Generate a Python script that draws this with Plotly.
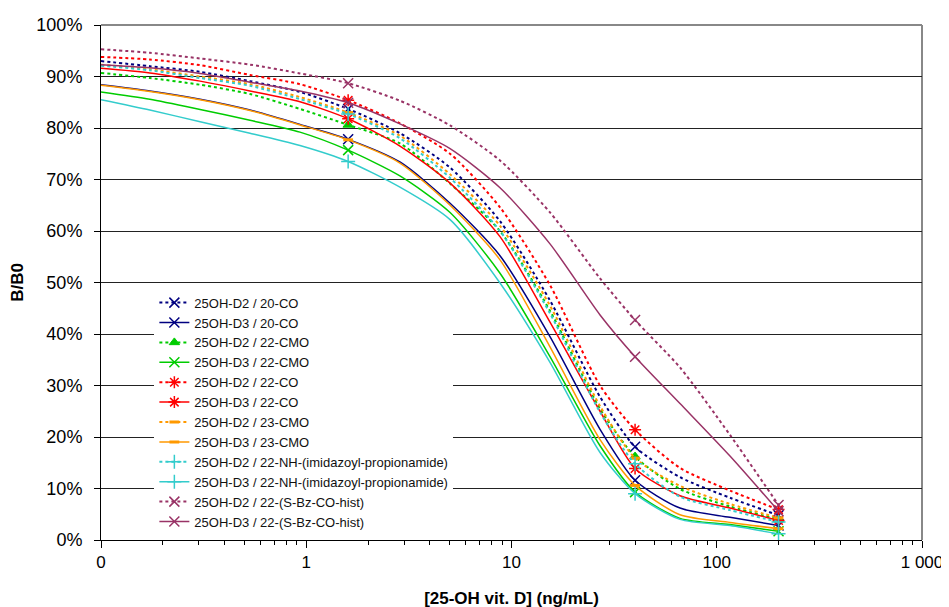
import plotly.graph_objects as go

# concentration sample positions (ng/mL); first value is the "0" point drawn at the left edge
conc = [0.1, 0.173, 0.304, 0.532, 0.932, 1.6, 2.86, 5.02, 8.79, 15.4, 27.0, 40, 66.2, 116, 200]
measured = [1.6, 40, 200]

d2_20co = [93.0, 92.0, 90.9, 89.1, 87.0, 83.7, 79.0, 72.3, 61.9, 46.5, 27.8, 18.1, 12.2, 8.2, 4.8]
d3_20co = [88.4, 87.2, 85.6, 83.5, 80.7, 77.8, 73.4, 65.4, 55.2, 39.5, 21.5, 11.6, 6.2, 4.4, 2.8]
d2_22cmo = [90.7, 89.7, 88.4, 86.6, 83.7, 80.6, 77.0, 69.2, 60.0, 44.5, 25.5, 16.2, 9.9, 6.5, 4.0]
d3_22cmo = [87.0, 85.6, 83.6, 81.5, 79.2, 75.7, 70.7, 63.6, 51.8, 35.6, 18.3, 9.3, 4.2, 3.0, 1.7]
d2_22co = [93.8, 93.3, 92.2, 90.3, 88.5, 85.4, 80.9, 75.0, 64.6, 49.5, 30.0, 21.4, 14.0, 9.6, 5.9]
d3_22co = [91.6, 90.7, 89.1, 87.2, 85.1, 81.8, 76.5, 69.3, 58.9, 42.3, 25.0, 13.9, 8.6, 6.2, 3.8]
d2_23cmo = [92.3, 91.4, 90.0, 88.5, 86.0, 83.0, 78.5, 71.0, 61.0, 45.5, 26.0, 15.9, 10.5, 7.0, 4.3]
d3_23cmo = [88.3, 87.1, 85.5, 83.4, 80.6, 77.7, 73.2, 65.0, 54.4, 37.5, 19.5, 10.6, 4.9, 3.4, 2.2]
d2_22nh = [92.1, 91.2, 89.7, 88.2, 85.6, 82.7, 78.0, 70.3, 60.0, 44.0, 24.8, 14.8, 8.4, 5.8, 3.5]
d3_22nh = [85.5, 83.5, 81.2, 79.0, 76.6, 73.5, 68.5, 62.2, 49.9, 34.5, 17.0, 9.0, 4.0, 2.8, 1.2]
d2_sbz = [95.3, 94.6, 93.5, 92.3, 90.6, 88.7, 85.3, 80.5, 73.7, 63.6, 50.8, 42.7, 33.5, 20.4, 6.8]
d3_sbz = [92.3, 91.7, 90.6, 88.9, 87.2, 84.9, 80.8, 76.0, 68.4, 57.5, 43.7, 35.6, 26.5, 16.3, 5.6]

names = [
    "25OH-D2 / 20-CO", "25OH-D3 / 20-CO",
    "25OH-D2 / 22-CMO", "25OH-D3 / 22-CMO",
    "25OH-D2 / 22-CO", "25OH-D3 / 22-CO",
    "25OH-D2 / 23-CMO", "25OH-D3 / 23-CMO",
    "25OH-D2 / 22-NH-(imidazoyl-propionamide)", "25OH-D3 / 22-NH-(imidazoyl-propionamide)",
    "25OH-D2 / 22-(S-Bz-CO-hist)", "25OH-D3 / 22-(S-Bz-CO-hist)",
]
series = [d2_20co, d3_20co, d2_22cmo, d3_22cmo, d2_22co, d3_22co,
          d2_23cmo, d3_23cmo, d2_22nh, d3_22nh, d2_sbz, d3_sbz]

NAVY, GREEN, RED, ORANGE, CYAN, PLUM = "#000080", "#00CC00", "#FF0000", "#FF9900", "#33CCCC", "#993366"
colors = [NAVY, NAVY, GREEN, GREEN, RED, RED, ORANGE, ORANGE, CYAN, CYAN, PLUM, PLUM]
symbols = ["x-thin-open", "x-thin-open", "triangle-up", "x-thin-open", "asterisk-open", "asterisk-open",
           "line-ew-open", "line-ew-open", "cross-thin-open", "cross-thin-open", "x-thin-open", "x-thin-open"]
msizes = [10, 10, 9, 10, 10, 10, 7, 7, 10, 10, 10, 10]
mlw = [1.5, 1.5, 1, 1.5, 1.5, 1.5, 3, 3, 1.5, 1.5, 1.5, 1.5]

sel = [i for i, c in enumerate(conc) if c in measured]

fig = go.Figure()
for i, (nm, ys) in enumerate(zip(names, series)):
    dotted = (i % 2 == 0)
    fig.add_trace(go.Scatter(
        x=conc, y=ys, name=nm, mode="lines+markers",
        line=dict(color=colors[i], width=2 if dotted else 1.5,
                  dash="3px,3px" if dotted else "solid", shape="spline", smoothing=0.7),
        marker=dict(symbol=symbols[i], size=msizes[i], color=colors[i],
                    line=dict(color=colors[i], width=mlw[i])),
        selectedpoints=sel,
        selected=dict(marker=dict(opacity=1)),
        unselected=dict(marker=dict(opacity=0)),
        cliponaxis=False,
    ))

minor_vals = []
for dec in [0.1, 1, 10, 100]:
    for k in range(2, 10):
        minor_vals.append(k * dec)

yvals = list(range(0, 101, 10))

fig.update_layout(
    width=949, height=607,
    margin=dict(l=93, r=35, t=17, b=75),
    paper_bgcolor="white", plot_bgcolor="white",
    font=dict(family="Liberation Sans, Arial, sans-serif", color="black"),
    showlegend=True,
    legend=dict(x=0.065, y=0.49, xanchor="left", yanchor="top", bgcolor="white",
                borderwidth=0, font=dict(size=13, color="#111"),
                tracegroupgap=0),
    xaxis=dict(type="log", range=[-1, 3], automargin=False,
               tickmode="array", tickvals=[0.1, 1, 10, 100, 1000],
               ticktext=["0", "1", "10", "100", "1 000"],
               ticks="outside", ticklen=7, tickcolor="black", tickwidth=1,
               showgrid=False, zeroline=False,
               showline=True, linecolor="black", linewidth=1,
               tickfont=dict(size=17),
               minor=dict(tickmode="array", tickvals=minor_vals, ticks="outside",
                          ticklen=4, tickcolor="black", showgrid=False),
               title=dict(text="<b>[25-OH vit. D] (ng/mL)</b>", font=dict(size=17), standoff=20)),
    yaxis=dict(range=[0, 100], tickmode="array", tickvals=yvals, automargin=False,
               ticktext=[f"{v}%" for v in yvals],
               ticks="outside", ticklen=6, tickcolor="black",
               ticklabelstandoff=8,
               showgrid=True, gridcolor="#222", gridwidth=1, zeroline=False,
               showline=True, linecolor="black", linewidth=1,
               tickfont=dict(size=18),
               title=dict(text="<b>B/B0</b>", font=dict(size=17), standoff=10)),
    shapes=[dict(type="line", xref="paper", yref="paper", x0=0, x1=1, y0=1, y1=1,
                 line=dict(color="#888", width=2), layer="below"),
            dict(type="line", xref="paper", yref="paper", x0=1, x1=1, y0=0, y1=1,
                 line=dict(color="#888", width=2), layer="below")],
)

fig.write_html("out.html")
